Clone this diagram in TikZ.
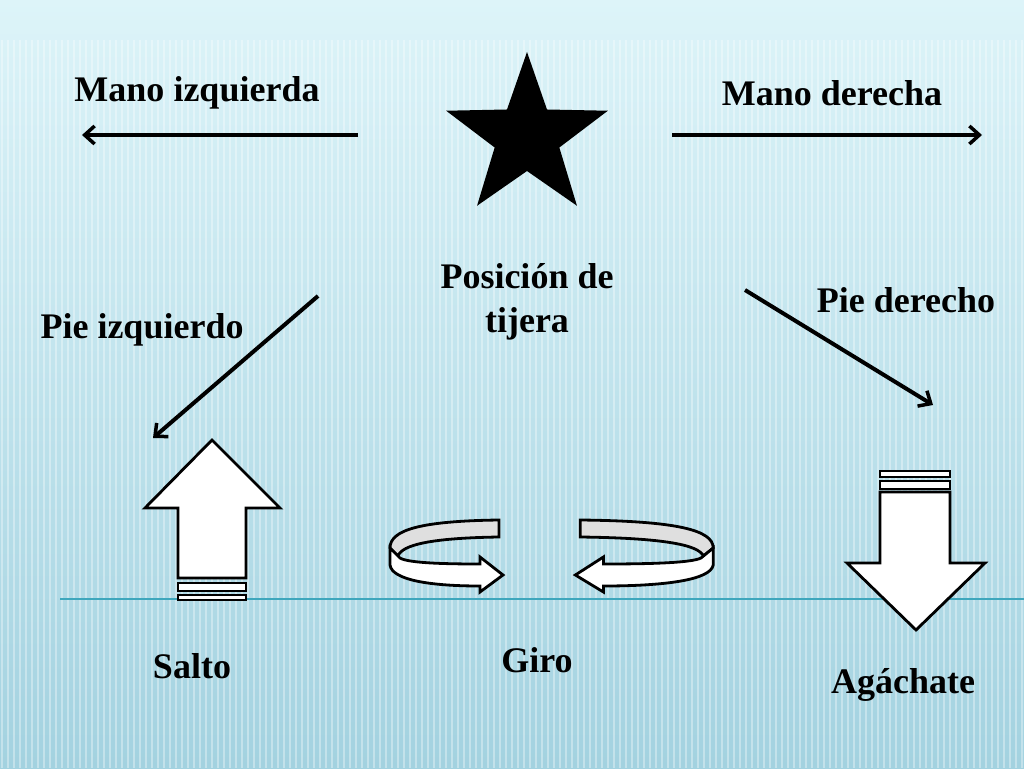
\documentclass[tikz,border=0pt]{standalone}
\usepackage{fontspec}
\setmainfont{Liberation Serif}
\usetikzlibrary{shapes.geometric,arrows.meta}

\definecolor{bgtop}{HTML}{DDF4F9}
\definecolor{bgbot}{HTML}{A3D2E0}
\definecolor{baseln}{HTML}{3FA7BD}

\tikzset{
  lbl/.style={font=\fontsize{36}{44}\selectfont\bfseries, align=center, text=black},
  conn/.style={line width=4pt, -{Straight Barb[length=10pt,width=18pt,line width=3.5pt]}},
  blk/.style={draw=black, line width=2.8pt, fill=white, line join=miter},
}

\begin{document}
\begin{tikzpicture}[x=1pt,y=-1pt]
  % background
  \shade[top color=bgtop, bottom color=bgbot] (0,0) rectangle (1024,768);
  \foreach \i in {0,...,170}
    \fill[white, opacity=0.35] (\i*6+1,40) rectangle (\i*6+3,768);
  \useasboundingbox (0,0) rectangle (1024,768);
  \draw[baseln, line width=1.2pt] (60,599) -- (1024,599);

  % star and labels
  \node[star, star points=5, star point ratio=2.5, fill=black, minimum size=170pt, inner sep=0pt] (star) at (527,137) {};
  \node[lbl] (manoiz) at (197,93) {Mano izquierda};
  \node[lbl] (manode) at (832,93) {Mano derecha};
  \node[lbl] (tijera) at (527,302) {Posición de\\tijera};
  \node[lbl] (pieiz) at (142,330) {Pie izquierdo};
  \node[lbl] (piede) at (906,300) {Pie derecho};
  \node[lbl] (salto) at (192,666) {Salto};
  \node[lbl] (giro) at (537,660) {Giro};
  \node[lbl] (agach) at (903,685) {Agáchate};

  % connectors
  \coordinate (miA) at (358,135); \coordinate (miB) at (82,135);
  \coordinate (mdA) at (672,135); \coordinate (mdB) at (982,135);
  \coordinate (piA) at (318,296); \coordinate (piB) at (153,438);
  \coordinate (pdA) at (745,290); \coordinate (pdB) at (933,405);
  \draw[conn] (miA) -- (miB);
  \draw[conn] (mdA) -- (mdB);
  \draw[conn] (piA) -- (piB);
  \draw[conn] (pdA) -- (pdB);

  % jump
  \draw[blk] (178,578) -- (178,508) -- (145,508) -- (212,440) -- (280,508) -- (246,508) -- (246,578) -- cycle;
  \draw[blk] (178,583) rectangle (246,591);
  \draw[blk] (178,595) rectangle (246,600);
  % crouch
  \draw[blk] (880,492) -- (880,563) -- (847,563) -- (916,630) -- (985,563) -- (950,563) -- (950,492) -- cycle;
  \draw[blk] (880,471) rectangle (950,477);
  \draw[blk] (880,481) rectangle (950,489);

  % turns
  \foreach \s/\o in {1/0, -1.22/1189} {
    \begin{scope}[xshift=\o, xscale=\s]
      \draw[blk, fill=gray!25] (499,520) .. controls (420,521) and (390,530) .. (390,548)
        -- (398,556) .. controls (402,545) and (430,538) .. (499,537) -- cycle;
      \draw[blk] (390,548) -- (390,565) .. controls (392,580) and (430,586) .. (480,586)
        -- (480,592) -- (503,575) -- (480,557) -- (480,564)
        .. controls (430,564) and (400,562) .. (398,556) -- cycle;
    \end{scope}
  }
\end{tikzpicture}
\end{document}
